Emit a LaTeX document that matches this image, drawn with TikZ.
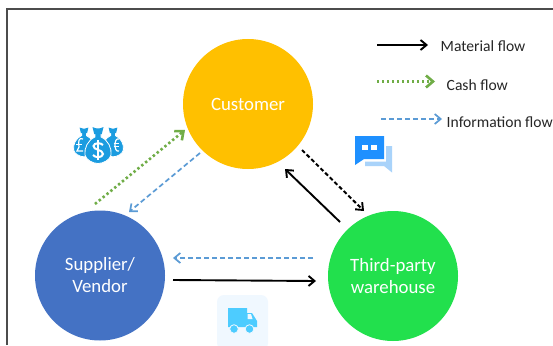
\documentclass[tikz,border=0pt]{standalone}
\usepackage{fontspec}
\setmainfont{Carlito}
\usetikzlibrary{arrows.meta}
\definecolor{cust}{HTML}{FFC000}
\definecolor{supp}{HTML}{4472C4}
\definecolor{ware}{HTML}{22E04D}
\definecolor{cashc}{HTML}{70AD47}
\definecolor{infoc}{HTML}{5B9BD5}
\definecolor{bagc}{HTML}{1B9CE0}
\definecolor{chatc}{HTML}{1E90FF}
\definecolor{chatl}{HTML}{A9D3FA}
\definecolor{truckbg}{HTML}{F0F8FF}
\definecolor{truckc}{HTML}{4DCCFF}
\tikzset{
  hub/.style={circle,minimum size=130pt,inner sep=0pt,text=white,font=\fontsize{18.8}{22}\selectfont,align=center},
  legendtext/.style={anchor=west,inner sep=0pt,text=black!85,font=\fontsize{15.6}{18}\selectfont},
  matflow/.style={draw=black,line width=1.9pt,-{Straight Barb[length=6pt,width=10pt,line width=1.9pt]}},
  cashflow/.style={draw=cashc,line width=2.6pt,dash pattern=on 2.4pt off 2.6pt,-{Straight Barb[length=7pt,width=12pt,line width=2.6pt,sep=0pt]}},
  infoflow/.style={draw=infoc,line width=1.7pt,dash pattern=on 5pt off 3pt,-{Straight Barb[length=6pt,width=10pt,line width=1.7pt]}},
  matdash/.style={draw=black,line width=2pt,dash pattern=on 4pt off 2.5pt,-{Straight Barb[length=6pt,width=10pt,line width=1.9pt]}},
  bag/.style={fill=bagc,draw=white,line width=.8pt},
}
\newcommand{\moneybag}[3]{% x,y,scale
  \begin{scope}[shift={(#1,#2)},scale=#3]
    \path[bag] (-3,-17) -- (3,-17) -- (3,-13) .. controls (10,-10) and (14,-2) .. (13,5)
      .. controls (12,10) and (5,13.5) .. (0,13.5) .. controls (-5,13.5) and (-12,10) .. (-13,5)
      .. controls (-14,-2) and (-10,-10) .. (-3,-13) -- cycle;
    \path[fill=bagc] (-5.5,-23) .. controls (-2,-21) and (2,-21) .. (5.5,-23) -- (3.8,-16) -- (-3.8,-16) -- cycle;
  \end{scope}}
\begin{document}
\begin{tikzpicture}[x=1pt,y=-1pt]
\useasboundingbox (0,0) rectangle (553,345);
\fill[white] (0,0) rectangle (553,345);
% frame
\coordinate (fb) at (7,345);
\coordinate (fc) at (7,9);
\coordinate (fr) at (553,9);
\draw[black!70,line width=1.1pt] (fb) -- (fc) -- (fr);
% hubs
\node[hub,fill=cust] (customer) at (248,104) {Customer};
\node[hub,fill=supp] (supplier) at (100,275.5) {Supplier/\\Vendor};
\node[hub,fill=ware] (warehouse) at (393,276) {Third-party\\warehouse};
% connector ends
\coordinate (c1) at (95,204); \coordinate (c2) at (185,130);
\coordinate (i1) at (200,153); \coordinate (i2) at (129,212);
\coordinate (d1) at (302,150); \coordinate (d2) at (364,211);
\coordinate (m1) at (340,222); \coordinate (m2) at (285,169);
\coordinate (h1) at (313,258); \coordinate (h2) at (173,258);
\coordinate (k1) at (173,280); \coordinate (k2) at (316,281);
\draw[cashflow] (c1) -- (c2);
\draw[infoflow] (i1) -- (i2);
\draw[matdash] (d1) -- (d2);
\draw[matflow] (m1) -- (m2);
\draw[infoflow] (h1) -- (h2);
\draw[matflow] (k1) -- (k2);
% legend
\coordinate (l1a) at (377,45); \coordinate (l1b) at (428,45);
\coordinate (l2a) at (377,81.5); \coordinate (l2b) at (435,81.5);
\coordinate (l3a) at (381,119); \coordinate (l3b) at (442,119);
\draw[matflow] (l1a) -- (l1b);
\draw[cashflow] (l2a) -- (l2b);
\draw[infoflow] (l3a) -- (l3b);
\node[legendtext] (t1) at (440.5,46) {Material flow};
\node[legendtext] (t2) at (446.5,85) {Cash flow};
\node[legendtext] (t3) at (446.5,122) {Information flow};
% money bags
\moneybag{84}{146}{.8}
\moneybag{113}{146}{.8}
\moneybag{98}{150}{1}
\draw[white,line width=2pt] (103,145) .. controls (101,142.5) and (94,142.5) .. (93.5,146) .. controls (93,150) and (103,149.5) .. (103,154) .. controls (102.5,158) and (95,158) .. (93,155);
\draw[white,line width=1.3pt] (98,140) -- (98,160);
\draw[white,line width=1.2pt] (83,139) .. controls (79,137) and (78,141) .. (79,147) -- (77,151) -- (83,151);
\draw[white,line width=1pt] (76,144.5) -- (82,144.5);
\draw[white,line width=1.2pt] (119,139) .. controls (116,138) and (115,142) .. (115,145) .. controls (115,148) and (116,152) .. (119,151);
\draw[white,line width=1pt] (113.5,143.5) -- (119,143.5) (113.5,146.5) -- (119,146.5);
% chat icon
\fill[chatl] (365,161.5) -- (386,161.5) -- (386,146) -- (392,146) -- (392,172.5) -- (384,166) -- (365,166) -- cycle;
\fill[chatc] (355,136) -- (384,136) -- (384,159) -- (364,159) -- (355,165) -- cycle;
\fill[white] (361.5,145) rectangle (367.5,150);
\fill[white] (371,145) rectangle (377,150);
% truck icon
\fill[truckbg,rounded corners=7pt] (217,295) rectangle (268,350);
\fill[truckc] (228,308) -- (247,308) -- (247,313) -- (252,313) -- (257,321) -- (257,327) -- (228,327) -- cycle;
\fill[truckbg] (247.5,314) -- (251,314) -- (252.5,319) -- (247.5,319) -- cycle;
\draw[draw=truckbg,line width=.8pt,fill=truckc] (234,329) circle (4.3);
\draw[draw=truckbg,line width=.8pt,fill=truckc] (249.5,329) circle (4.3);
\end{tikzpicture}
\end{document}
